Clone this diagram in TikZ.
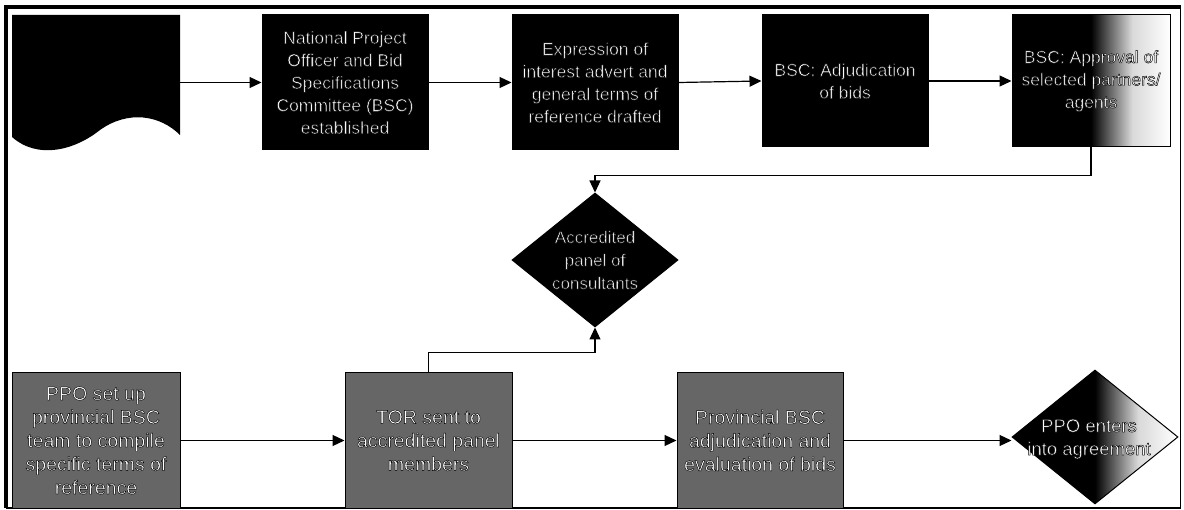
\documentclass[tikz,border=0pt]{standalone}
\usepackage{fontspec}
\setmainfont{Liberation Sans}
\usetikzlibrary{arrows.meta,shapes.geometric}
\pgfdeclarehorizontalshading{fadebw}{100bp}{color(0bp)=(black); color(50bp)=(black); color(56bp)=(black!60); color(63bp)=(black!15); color(75bp)=(white); color(100bp)=(white)}
\makeatletter
\newcommand\olt[1]{\pgfsys@invoke{ 0 G 2 Tr 0.45 w }#1\pgfsys@invoke{ 0 Tr }}
\makeatother
\tikzset{
  topbox/.style={draw=black, line width=1pt, fill=black, minimum width=166pt, minimum height=135pt,
    inner sep=0pt, text=white, align=center, font=\fontsize{17.5}{22.5}\selectfont},
  botbox/.style={draw=black, line width=1pt, fill=black!60, minimum width=166pt, minimum height=135pt,
    inner sep=0pt, text=white, align=center, font=\fontsize{19.5}{23.5}\selectfont},
  dia/.style={diamond, draw=black, line width=1pt, minimum width=166pt, minimum height=134pt, inner sep=0pt},
  lbl/.style={text=white, align=center},
  arr/.style={line width=1.2pt, -{Triangle[length=12pt,width=11pt]}},
}
\begin{document}
\begin{tikzpicture}[x=1pt,y=-1pt]
\useasboundingbox (0,0) rectangle (1184,510);
\fill[white] (0,0) rectangle (1184,510);
% frame
\draw[line width=1.5pt] (1180.5,7.5) -- (1180.5,508) -- (5.5,508);
\draw[line width=4pt] (5.5,508) -- (5.5,7.5) -- (1180.5,7.5);

% document shape
\node[minimum width=168pt, minimum height=135pt, inner sep=0pt] (doc) at (96,82.5) {};
\fill[black] (12,15) -- (180,15) -- (180,135)
  .. controls (160,115) and (128,110) .. (100,130)
  .. controls (75,150) and (38,160) .. (12,137) -- cycle;

% top row
\node[topbox] (b1) at (345,82.5) {\olt{National Project\\Officer and Bid\\Specifications\\Committee (BSC)\\established}};
\node[topbox] (b2) at (595,82.5) {\olt{Expression of\\interest advert and\\general terms of\\reference drafted}};
\node[topbox, minimum height=132pt] (b3) at (845,81) {\olt{BSC: Adjudication\\of bids}};
\node[topbox, minimum width=158pt, minimum height=132pt, shade, shading=fadebw] (b4) at (1091,81) {\olt{BSC: Approval of\\selected partners/\\agents}};

% middle diamond
\node[dia, fill=black] (d1) at (595,260) {};
\node[lbl, font=\fontsize{17}{23}\selectfont] (d1t) at (d1.center) {\olt{Accredited\\panel of\\consultants}};

% bottom row
\node[botbox, minimum width=168pt] (c1) at (96,440.5) {\olt{PPO set up\\provincial BSC\\team to compile\\specific terms of\\reference}};
\node[botbox, minimum width=167pt] (c2) at (428.5,440.5) {\olt{TOR sent to\\accredited panel\\members}};
\node[botbox] (c3) at (760,440.5) {\olt{Provincial BSC\\adjudication and\\evaluation of bids}};
\node[dia, shade, shading=fadebw] (d2) at (1095,437) {};
\node[lbl, font=\fontsize{18.5}{23}\selectfont] (d2t) at (1089,439) {\olt{PPO enters\\into agreement}};

% connectors
\draw[arr] (doc.east) -- (b1.west);
\draw[arr] (b1.east) -- (b2.west);
\draw[arr] (b2.east) -- (b3.west);
\draw[arr] (b3.east) -- (b4.west);
\draw[arr] (b4.south) -- ++(0,28) -| (d1.north);
\draw[arr] (c2.north) -- ++(0,-20) -| (d1.south);
\draw[arr] (c1.east) -- (c2.west);
\draw[arr] (c2.east) -- (c3.west);
\draw[arr] (c3.east) -- (c3.east -| d2.west);
\end{tikzpicture}
\end{document}
